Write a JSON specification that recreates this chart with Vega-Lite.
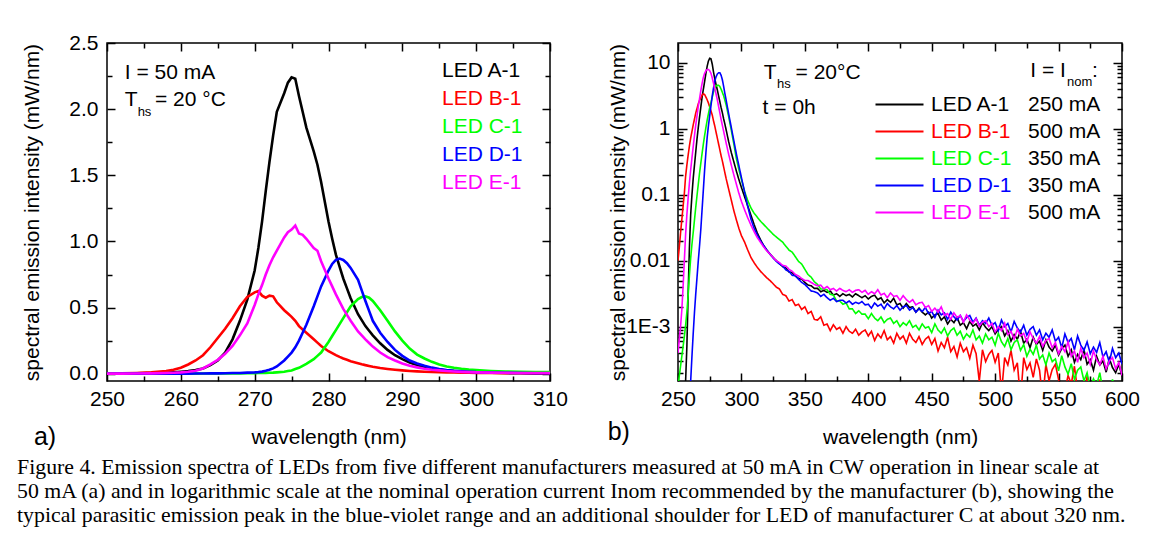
{
"$schema": "https://vega.github.io/schema/vega-lite/v6.json",
"background": "white",
"padding": {"left": 17, "top": 31, "right": 10, "bottom": 10},
"config": {
  "font": "Liberation Sans",
  "view": {"stroke": "black", "strokeWidth": 1.5},
  "axis": {"domain": false, "grid": false, "labelFont": "Liberation Sans", "labelFontSize": 21, "labelColor": "black", "titleFont": "Liberation Sans", "titleFontSize": 21, "titleFontWeight": "normal", "titleColor": "black", "tickColor": "black", "tickWidth": 1.5, "labelFlush": false, "labelOverlap": false},
  "legend": {"labelFont": "Liberation Sans", "labelFontSize": 21, "padding": 0}
},
"datasets": {
"a": [
{"w":250,"A":0.002,"B":0.002,"C":0.001,"D":0.001,"E":0.001},
{"w":252,"A":0.002,"B":0.003,"C":0.001,"D":0.001,"E":0.001},
{"w":254,"A":0.003,"B":0.006,"C":0.001,"D":0.001,"E":0.002},
{"w":256,"A":0.005,"B":0.011,"C":0.001,"D":0.001,"E":0.003},
{"w":258,"A":0.008,"B":0.021,"C":0.001,"D":0.001,"E":0.005},
{"w":259,"A":0.011,"B":0.03,"C":0.001,"D":0.001,"E":0.007},
{"w":260,"A":0.015,"B":0.045,"C":0.001,"D":0.001,"E":0.01},
{"w":261,"A":0.02,"B":0.07,"C":0.001,"D":0.001,"E":0.015},
{"w":262,"A":0.028,"B":0.1,"C":0.001,"D":0.002,"E":0.022},
{"w":263,"A":0.04,"B":0.14,"C":0.002,"D":0.002,"E":0.04},
{"w":264,"A":0.065,"B":0.2,"C":0.002,"D":0.003,"E":0.07},
{"w":265,"A":0.1,"B":0.27,"C":0.002,"D":0.003,"E":0.105},
{"w":266,"A":0.16,"B":0.34,"C":0.002,"D":0.004,"E":0.15},
{"w":267,"A":0.26,"B":0.42,"C":0.003,"D":0.005,"E":0.21},
{"w":268,"A":0.40,"B":0.51,"C":0.003,"D":0.006,"E":0.29},
{"w":269,"A":0.56,"B":0.58,"C":0.004,"D":0.008,"E":0.38},
{"w":270,"A":0.78,"B":0.615,"C":0.004,"D":0.01,"E":0.52},
{"w":270.5,"A":0.95,"B":0.625,"C":0.005,"D":0.012,"E":0.6},
{"w":271,"A":1.15,"B":0.59,"C":0.005,"D":0.016,"E":0.67},
{"w":271.5,"A":1.38,"B":0.575,"C":0.006,"D":0.022,"E":0.75},
{"w":272,"A":1.60,"B":0.59,"C":0.007,"D":0.03,"E":0.82},
{"w":272.5,"A":1.80,"B":0.585,"C":0.008,"D":0.04,"E":0.88},
{"w":273,"A":1.98,"B":0.54,"C":0.01,"D":0.055,"E":0.93},
{"w":274,"A":2.12,"B":0.48,"C":0.015,"D":0.1,"E":1.03},
{"w":274.5,"A":2.2,"B":0.455,"C":0.02,"D":0.13,"E":1.07},
{"w":275,"A":2.24,"B":0.43,"C":0.025,"D":0.16,"E":1.09},
{"w":275.5,"A":2.23,"B":0.40,"C":0.035,"D":0.2,"E":1.12},
{"w":276,"A":2.10,"B":0.36,"C":0.045,"D":0.25,"E":1.06},
{"w":276.5,"A":1.98,"B":0.335,"C":0.06,"D":0.31,"E":1.05},
{"w":277,"A":1.86,"B":0.31,"C":0.075,"D":0.37,"E":1.02},
{"w":278,"A":1.68,"B":0.26,"C":0.11,"D":0.51,"E":0.95},
{"w":278.5,"A":1.58,"B":0.235,"C":0.135,"D":0.585,"E":0.93},
{"w":279,"A":1.45,"B":0.21,"C":0.16,"D":0.66,"E":0.85},
{"w":280,"A":1.15,"B":0.17,"C":0.24,"D":0.78,"E":0.72},
{"w":280.5,"A":1.02,"B":0.155,"C":0.285,"D":0.83,"E":0.66},
{"w":281,"A":0.90,"B":0.14,"C":0.33,"D":0.86,"E":0.60},
{"w":281.5,"A":0.81,"B":0.127,"C":0.375,"D":0.87,"E":0.545},
{"w":282,"A":0.72,"B":0.115,"C":0.42,"D":0.86,"E":0.49},
{"w":282.5,"A":0.645,"B":0.105,"C":0.465,"D":0.835,"E":0.445},
{"w":283,"A":0.57,"B":0.095,"C":0.51,"D":0.80,"E":0.40},
{"w":284,"A":0.45,"B":0.08,"C":0.565,"D":0.71,"E":0.32},
{"w":284.5,"A":0.405,"B":0.072,"C":0.58,"D":0.63,"E":0.29},
{"w":285,"A":0.36,"B":0.065,"C":0.585,"D":0.55,"E":0.26},
{"w":285.5,"A":0.325,"B":0.059,"C":0.575,"D":0.475,"E":0.232},
{"w":286,"A":0.29,"B":0.053,"C":0.55,"D":0.40,"E":0.205},
{"w":287,"A":0.23,"B":0.043,"C":0.48,"D":0.31,"E":0.16},
{"w":288,"A":0.18,"B":0.036,"C":0.40,"D":0.24,"E":0.125},
{"w":289,"A":0.14,"B":0.03,"C":0.32,"D":0.18,"E":0.1},
{"w":290,"A":0.11,"B":0.025,"C":0.25,"D":0.135,"E":0.077},
{"w":291,"A":0.085,"B":0.021,"C":0.19,"D":0.1,"E":0.06},
{"w":292,"A":0.065,"B":0.018,"C":0.145,"D":0.077,"E":0.048},
{"w":293,"A":0.05,"B":0.015,"C":0.115,"D":0.06,"E":0.038},
{"w":294,"A":0.04,"B":0.013,"C":0.09,"D":0.046,"E":0.03},
{"w":295,"A":0.032,"B":0.011,"C":0.07,"D":0.036,"E":0.025},
{"w":296,"A":0.025,"B":0.01,"C":0.055,"D":0.028,"E":0.02},
{"w":297,"A":0.02,"B":0.009,"C":0.045,"D":0.022,"E":0.017},
{"w":298,"A":0.016,"B":0.008,"C":0.037,"D":0.018,"E":0.014},
{"w":299,"A":0.013,"B":0.007,"C":0.031,"D":0.015,"E":0.012},
{"w":300,"A":0.011,"B":0.006,"C":0.027,"D":0.012,"E":0.01},
{"w":302,"A":0.008,"B":0.005,"C":0.021,"D":0.009,"E":0.008},
{"w":304,"A":0.006,"B":0.004,"C":0.017,"D":0.007,"E":0.007},
{"w":306,"A":0.005,"B":0.0035,"C":0.015,"D":0.005,"E":0.006},
{"w":308,"A":0.004,"B":0.003,"C":0.013,"D":0.004,"E":0.005},
{"w":310,"A":0.004,"B":0.003,"C":0.012,"D":0.004,"E":0.005}
],
"b": [
{"w":250,"A":3.2e-5,"B":1.0e-2,"C":1.26e-4,"D":3.2e-5,"E":3.98e-4},
{"w":251,"A":3.2e-5,"B":1.58e-2,"C":1.78e-4,"D":3.2e-5,"E":6.31e-4},
{"w":252,"A":3.2e-5,"B":2.63e-2,"C":2.51e-4,"D":3.2e-5,"E":1.0e-3},
{"w":253,"A":3.2e-5,"B":4.17e-2,"C":3.55e-4,"D":3.2e-5,"E":1.78e-3},
{"w":254,"A":5.0e-5,"B":6.61e-2,"C":5.01e-4,"D":3.2e-5,"E":3.98e-3},
{"w":255,"A":8.9e-5,"B":0.105,"C":7.08e-4,"D":3.2e-5,"E":1.0e-2},
{"w":256,"A":1.51e-4,"B":0.191,"C":1.05e-3,"D":3.2e-5,"E":2.51e-2},
{"w":257,"A":5.01e-4,"B":0.282,"C":1.66e-3,"D":3.2e-5,"E":5.01e-2},
{"w":258,"A":3.16e-3,"B":0.398,"C":3.02e-3,"D":3.2e-5,"E":8.91e-2},
{"w":259,"A":1.58e-2,"B":0.55,"C":6.03e-3,"D":3.2e-5,"E":0.151},
{"w":260,"A":5.01e-2,"B":0.724,"C":1.10e-2,"D":1.51e-4,"E":0.24},
{"w":261,"A":0.1,"B":0.912,"C":1.78e-2,"D":3.55e-4,"E":0.363},
{"w":262,"A":0.178,"B":1.15,"C":2.69e-2,"D":7.94e-4,"E":0.537},
{"w":263,"A":0.282,"B":1.41,"C":4.17e-2,"D":1.66e-3,"E":0.794},
{"w":264,"A":0.447,"B":1.74,"C":6.46e-2,"D":3.16e-3,"E":1.15},
{"w":265,"A":0.708,"B":2.04,"C":9.77e-2,"D":5.62e-3,"E":1.58},
{"w":266,"A":1.05,"B":2.40,"C":0.145,"D":1.0e-2,"E":2.19},
{"w":267,"A":1.51,"B":2.69,"C":0.214,"D":1.70e-2,"E":2.88},
{"w":268,"A":2.14,"B":2.95,"C":0.302,"D":3.02e-2,"E":3.80},
{"w":269,"A":3.02,"B":3.24,"C":0.427,"D":6.03e-2,"E":4.90},
{"w":270,"A":3.98,"B":3.39,"C":0.589,"D":0.12,"E":6.03},
{"w":271,"A":5.25,"B":3.31,"C":0.794,"D":0.24,"E":6.92},
{"w":272,"A":6.92,"B":3.02,"C":1.05,"D":0.437,"E":7.59},
{"w":273,"A":8.91,"B":2.75,"C":1.35,"D":0.741,"E":7.94},
{"w":274,"A":10.7,"B":2.45,"C":1.70,"D":1.12,"E":7.94},
{"w":275,"A":11.7,"B":2.14,"C":2.09,"D":1.58,"E":7.59},
{"w":276,"A":11.5,"B":1.86,"C":2.51,"D":2.24,"E":6.92},
{"w":277,"A":9.55,"B":1.62,"C":3.02,"D":3.16,"E":5.89},
{"w":278,"A":7.24,"B":1.32,"C":3.63,"D":4.17,"E":4.90},
{"w":279,"A":5.75,"B":1.10,"C":4.17,"D":5.25,"E":4.07},
{"w":280,"A":4.68,"B":0.891,"C":4.47,"D":6.17,"E":3.39},
{"w":281,"A":3.89,"B":0.724,"C":4.57,"D":6.76,"E":2.75},
{"w":282,"A":3.16,"B":0.589,"C":4.57,"D":7.08,"E":2.19},
{"w":283,"A":2.57,"B":0.479,"C":4.37,"D":7.08,"E":1.74},
{"w":284,"A":2.09,"B":0.389,"C":3.98,"D":6.46,"E":1.38},
{"w":285,"A":1.74,"B":0.324,"C":3.55,"D":5.50,"E":1.12},
{"w":286,"A":1.41,"B":0.263,"C":3.16,"D":4.37,"E":0.912},
{"w":287,"A":1.17,"B":0.214,"C":2.69,"D":3.39,"E":0.741},
{"w":288,"A":0.955,"B":0.174,"C":2.29,"D":2.69,"E":0.603},
{"w":290,"A":0.631,"B":0.12,"C":1.51,"D":1.66,"E":0.407},
{"w":292,"A":0.437,"B":0.0832,"C":0.955,"D":1.05,"E":0.282},
{"w":294,"A":0.316,"B":0.0575,"C":0.589,"D":0.661,"E":0.2},
{"w":296,"A":0.229,"B":0.0417,"C":0.355,"D":0.417,"E":0.145},
{"w":298,"A":0.17,"B":0.0309,"C":0.24,"D":0.275,"E":0.105},
{"w":300,"A":0.129,"B":0.024,"C":0.17,"D":0.182,"E":0.0794},
{"w":302.5,"A":0.0933,"B":0.0191,"C":0.112,"D":0.11,"E":0.0589},
{"w":305,"A":0.0676,"B":0.0145,"C":0.0813,"D":0.0661,"E":0.0447},
{"w":307.5,"A":0.049,"B":0.0112,"C":0.0631,"D":0.0427,"E":0.0347},
{"w":310,"A":0.0355,"B":0.00933,"C":0.0525,"D":0.0309,"E":0.0275},
{"w":312.5,"A":0.0263,"B":0.00794,"C":0.0457,"D":0.0245,"E":0.0224},
{"w":315,"A":0.0209,"B":0.00692,"C":0.0398,"D":0.02,"E":0.0191},
{"w":317.5,"A":0.017,"B":0.00617,"C":0.0355,"D":0.017,"E":0.0162},
{"w":320,"A":0.0145,"B":0.0055,"C":0.0316,"D":0.0145,"E":0.0141},
{"w":322.5,"A":0.0126,"B":0.00501,"C":0.0282,"D":0.0126,"E":0.0126},
{"w":325,"A":0.0112,"B":0.00447,"C":0.0251,"D":0.011,"E":0.0112},
{"w":327.5,"A":0.01,"B":0.00398,"C":0.0229,"D":0.00977,"E":0.01},
{"w":330,"A":0.00912,"B":0.00372,"C":0.0209,"D":0.00891,"E":0.00933},
{"w":332.5,"A":0.00813,"B":0.00309,"C":0.0191,"D":0.00832,"E":0.00851},
{"w":335,"A":0.00776,"B":0.00295,"C":0.0166,"D":0.00724,"E":0.00832},
{"w":337.5,"A":0.00676,"B":0.00245,"C":0.0145,"D":0.00692,"E":0.00741},
{"w":340,"A":0.00661,"B":0.00257,"C":0.0135,"D":0.00603,"E":0.00692},
{"w":342.5,"A":0.00589,"B":0.00209,"C":0.0115,"D":0.00589,"E":0.00617},
{"w":345,"A":0.00537,"B":0.00219,"C":0.00977,"D":0.00525,"E":0.00589},
{"w":347.5,"A":0.00525,"B":0.00182,"C":0.00891,"D":0.00468,"E":0.00537},
{"w":350,"A":0.00468,"B":0.002,"C":0.00741,"D":0.00437,"E":0.00501},
{"w":352.5,"A":0.00427,"B":0.00158,"C":0.00617,"D":0.00389,"E":0.00501},
{"w":355,"A":0.00417,"B":0.0017,"C":0.00562,"D":0.00347,"E":0.00468},
{"w":357.5,"A":0.0038,"B":0.00129,"C":0.00479,"D":0.00339,"E":0.00437},
{"w":360,"A":3.80e-3,"B":1.26e-3,"C":4.37e-3,"D":3.24e-3,"E":4.17e-3},
{"w":362.5,"A":3.39e-3,"B":1.41e-3,"C":3.72e-3,"D":2.88e-3,"E":4.27e-3},
{"w":365,"A":3.55e-3,"B":1.05e-3,"C":3.72e-3,"D":3.09e-3,"E":3.75e-3},
{"w":367.5,"A":3.31e-3,"B":1.10e-3,"C":3.63e-3,"D":2.75e-3,"E":4.07e-3},
{"w":370,"A":3.47e-3,"B":8.71e-4,"C":3.09e-3,"D":2.51e-3,"E":3.63e-3},
{"w":372.5,"A":3.02e-3,"B":1.07e-3,"C":3.02e-3,"D":2.69e-3,"E":3.80e-3},
{"w":375,"A":3.16e-3,"B":9.12e-4,"C":2.45e-3,"D":2.40e-3,"E":3.47e-3},
{"w":377.5,"A":2.88e-3,"B":9.77e-4,"C":2.45e-3,"D":2.51e-3,"E":3.80e-3},
{"w":380,"A":3.16e-3,"B":7.94e-4,"C":2.19e-3,"D":2.51e-3,"E":3.55e-3},
{"w":382.5,"A":2.95e-3,"B":1.00e-3,"C":2.29e-3,"D":2.29e-3,"E":3.39e-3},
{"w":385,"A":3.09e-3,"B":8.51e-4,"C":1.86e-3,"D":2.45e-3,"E":3.63e-3},
{"w":387.5,"A":2.82e-3,"B":7.94e-4,"C":1.86e-3,"D":2.19e-3,"E":3.31e-3},
{"w":390,"A":3.16e-3,"B":9.12e-4,"C":1.58e-3,"D":2.34e-3,"E":3.55e-3},
{"w":392.5,"A":2.95e-3,"B":7.41e-4,"C":1.74e-3,"D":2.24e-3,"E":3.63e-3},
{"w":395,"A":2.75e-3,"B":8.32e-4,"C":1.55e-3,"D":2.40e-3,"E":3.31e-3},
{"w":397.5,"A":2.95e-3,"B":8.91e-4,"C":1.55e-3,"D":2.14e-3,"E":3.55e-3},
{"w":400,"A":2.63e-3,"B":7.24e-4,"C":1.32e-3,"D":2.19e-3,"E":3.09e-3},
{"w":402.5,"A":2.88e-3,"B":8.51e-4,"C":1.58e-3,"D":1.91e-3,"E":3.39e-3},
{"w":405,"A":3.0e-3,"B":6.17e-4,"C":1.35e-3,"D":2.29e-3,"E":3.16e-3},
{"w":407.5,"A":2.57e-3,"B":7.76e-4,"C":1.23e-3,"D":2.04e-3,"E":3.63e-3},
{"w":410,"A":2.75e-3,"B":6.76e-4,"C":1.41e-3,"D":2.19e-3,"E":3.02e-3},
{"w":412.5,"A":2.29e-3,"B":8.71e-4,"C":1.15e-3,"D":1.86e-3,"E":3.2e-3},
{"w":415,"A":2.57e-3,"B":6.31e-4,"C":1.29e-3,"D":2.24e-3,"E":2.75e-3},
{"w":417.5,"A":2.34e-3,"B":7.08e-4,"C":1.35e-3,"D":2.00e-3,"E":3.24e-3},
{"w":420,"A":2.69e-3,"B":5.62e-4,"C":1.12e-3,"D":1.86e-3,"E":2.88e-3},
{"w":422.5,"A":2.14e-3,"B":7.94e-4,"C":1.23e-3,"D":2.09e-3,"E":2.95e-3},
{"w":425,"A":2.24e-3,"B":6.46e-4,"C":1.00e-3,"D":1.78e-3,"E":2.51e-3},
{"w":427.5,"A":1.91e-3,"B":7.24e-4,"C":1.15e-3,"D":2.00e-3,"E":2.95e-3},
{"w":430,"A":2.24e-3,"B":5.62e-4,"C":1.05e-3,"D":2.09e-3,"E":2.57e-3},
{"w":432.5,"A":1.95e-3,"B":7.94e-4,"C":1.23e-3,"D":1.78e-3,"E":2.34e-3},
{"w":435,"A":2.00e-3,"B":6.46e-4,"C":9.77e-4,"D":1.95e-3,"E":2.57e-3},
{"w":437.5,"A":1.66e-3,"B":5.75e-4,"C":1.05e-3,"D":1.66e-3,"E":2.14e-3},
{"w":440,"A":1.91e-3,"B":7.08e-4,"C":8.91e-4,"D":1.86e-3,"E":2.29e-3},
{"w":442.5,"A":1.66e-3,"B":5.37e-4,"C":1.10e-3,"D":1.70e-3,"E":2.34e-3},
{"w":445,"A":1.51e-3,"B":6.46e-4,"C":9.55e-4,"D":1.95e-3,"E":1.95e-3},
{"w":447.5,"A":1.66e-3,"B":7.08e-4,"C":1.00e-3,"D":1.58e-3,"E":2.09e-3},
{"w":450,"A":1.35e-3,"B":5.37e-4,"C":8.13e-4,"D":1.70e-3,"E":1.70e-3},
{"w":452.5,"A":1.51e-3,"B":6.61e-4,"C":1.10e-3,"D":1.38e-3,"E":1.91e-3},
{"w":455,"A":1.58e-3,"B":4.27e-4,"C":8.91e-4,"D":1.78e-3,"E":1.66e-3},
{"w":457.5,"A":1.26e-3,"B":5.75e-4,"C":7.94e-4,"D":1.51e-3,"E":2.00e-3},
{"w":460,"A":1.41e-3,"B":4.79e-4,"C":9.55e-4,"D":1.62e-3,"E":1.48e-3},
{"w":462.5,"A":1.10e-3,"B":6.92e-4,"C":7.24e-4,"D":1.29e-3,"E":1.58e-3},
{"w":465,"A":1.29e-3,"B":4.17e-4,"C":8.71e-4,"D":1.66e-3,"E":1.29e-3},
{"w":467.5,"A":1.15e-3,"B":5.01e-4,"C":9.55e-4,"D":1.41e-3,"E":1.62e-3},
{"w":470,"A":1.38e-3,"B":3.47e-4,"C":7.41e-4,"D":1.26e-3,"E":1.38e-3},
{"w":472.5,"A":1.05e-3,"B":5.62e-4,"C":8.51e-4,"D":1.48e-3,"E":1.48e-3},
{"w":475,"A":1.15e-3,"B":4.17e-4,"C":6.46e-4,"D":1.20e-3,"E":1.17e-3},
{"w":477.5,"A":9.33e-4,"B":4.79e-4,"C":7.76e-4,"D":1.38e-3,"E":1.51e-3},
{"w":480,"A":1.20e-3,"B":3.31e-4,"C":6.92e-4,"D":1.48e-3,"E":1.26e-3},
{"w":482.5,"A":1.02e-3,"B":5.25e-4,"C":8.91e-4,"D":1.17e-3,"E":1.12e-3},
{"w":485,"A":1.10e-3,"B":3.89e-4,"C":6.31e-4,"D":1.35e-3,"E":1.32e-3},
{"w":487.5,"A":8.91e-4,"B":1.48e-4,"C":7.24e-4,"D":1.05e-3,"E":1.02e-3},
{"w":490,"A":1.15e-3,"B":4.47e-4,"C":5.62e-4,"D":1.23e-3,"E":1.17e-3},
{"w":492.5,"A":9.77e-4,"B":2.95e-4,"C":7.76e-4,"D":1.12e-3,"E":1.23e-3},
{"w":495,"A":8.71e-4,"B":3.80e-4,"C":6.31e-4,"D":1.35e-3,"E":1.00e-3},
{"w":497.5,"A":1.00e-3,"B":4.37e-4,"C":6.92e-4,"D":1.05e-3,"E":1.12e-3},
{"w":500,"A":7.76e-4,"B":2.88e-4,"C":5.25e-4,"D":1.15e-3,"E":8.32e-4},
{"w":502.5,"A":9.12e-4,"B":3.98e-4,"C":7.94e-4,"D":8.71e-4,"E":1.00e-3},
{"w":505,"A":1.00e-3,"B":9.77e-5,"C":5.89e-4,"D":1.26e-3,"E":8.71e-4},
{"w":507.5,"A":7.24e-4,"B":3.39e-4,"C":5.01e-4,"D":1.00e-3,"E":1.13e-3},
{"w":510,"A":8.71e-4,"B":2.63e-4,"C":6.61e-4,"D":1.12e-3,"E":7.59e-4},
{"w":512.5,"A":6.03e-4,"B":4.37e-4,"C":4.47e-4,"D":8.32e-4,"E":8.51e-4},
{"w":515,"A":7.59e-4,"B":2.19e-4,"C":5.75e-4,"D":1.20e-3,"E":6.46e-4},
{"w":517.5,"A":6.46e-4,"B":2.82e-4,"C":6.31e-4,"D":9.55e-4,"E":9.12e-4},
{"w":520,"A":8.51e-4,"B":7.76e-5,"C":4.37e-4,"D":8.32e-4,"E":7.24e-4},
{"w":522.5,"A":5.62e-4,"B":3.39e-4,"C":5.37e-4,"D":1.05e-3,"E":7.94e-4},
{"w":525,"A":6.46e-4,"B":2.24e-4,"C":3.55e-4,"D":7.41e-4,"E":5.89e-4},
{"w":527.5,"A":4.79e-4,"B":2.82e-4,"C":4.57e-4,"D":9.12e-4,"E":8.32e-4},
{"w":530,"A":6.92e-4,"B":1.70e-4,"C":3.80e-4,"D":1.00e-3,"E":6.61e-4},
{"w":532.5,"A":5.37e-4,"B":3.24e-4,"C":5.25e-4,"D":7.41e-4,"E":5.62e-4},
{"w":535,"A":6.03e-4,"B":2.19e-4,"C":3.24e-4,"D":8.91e-4,"E":7.08e-4},
{"w":537.5,"A":4.37e-4,"B":7.76e-5,"C":3.72e-4,"D":6.31e-4,"E":5.01e-4},
{"w":540,"A":6.31e-4,"B":2.69e-4,"C":2.63e-4,"D":7.94e-4,"E":6.17e-4},
{"w":542.5,"A":4.90e-4,"B":1.51e-4,"C":3.98e-4,"D":6.92e-4,"E":6.61e-4},
{"w":545,"A":4.27e-4,"B":2.24e-4,"C":2.95e-4,"D":8.91e-4,"E":4.79e-4},
{"w":547.5,"A":5.25e-4,"B":2.69e-4,"C":3.24e-4,"D":6.03e-4,"E":5.75e-4},
{"w":550,"A":3.72e-4,"B":1.58e-4,"C":2.14e-4,"D":6.92e-4,"E":3.89e-4},
{"w":552.5,"A":4.68e-4,"B":1.05e-4,"C":3.63e-4,"D":4.79e-4,"E":5.01e-4},
{"w":555,"A":5.25e-4,"B":1.10e-4,"C":2.45e-4,"D":7.76e-4,"E":4.17e-4},
{"w":557.5,"A":3.55e-4,"B":1.82e-4,"C":1.91e-4,"D":5.75e-4,"E":5.89e-4},
{"w":560,"A":4.47e-4,"B":1.35e-4,"C":2.75e-4,"D":6.61e-4,"E":3.55e-4},
{"w":562.5,"A":2.88e-4,"B":2.51e-4,"C":1.58e-4,"D":4.47e-4,"E":4.27e-4},
{"w":565,"A":3.80e-4,"B":1.07e-4,"C":2.19e-4,"D":7.24e-4,"E":2.88e-4},
{"w":567.5,"A":3.16e-4,"B":6.46e-5,"C":2.45e-4,"D":5.25e-4,"E":4.68e-4},
{"w":570,"A":4.47e-4,"B":7.94e-5,"C":1.51e-4,"D":4.37e-4,"E":3.39e-4},
{"w":572.5,"A":2.69e-4,"B":1.78e-4,"C":2.00e-4,"D":5.89e-4,"E":3.98e-4},
{"w":575,"A":3.16e-4,"B":1.07e-4,"C":1.15e-4,"D":3.89e-4,"E":2.69e-4},
{"w":577.5,"A":2.19e-4,"B":1.35e-4,"C":1.62e-4,"D":4.90e-4,"E":4.27e-4},
{"w":580,"A":3.55e-4,"B":3.3e-5,"C":1.29e-4,"D":4.07e-4,"E":3.16e-4},
{"w":582.5,"A":2.63e-4,"B":1.58e-4,"C":2.00e-4,"D":5.75e-4,"E":2.63e-4},
{"w":585,"A":3.02e-4,"B":9.55e-5,"C":1.07e-4,"D":3.47e-4,"E":3.55e-4},
{"w":587.5,"A":2.04e-4,"B":7.2e-5,"C":1.35e-4,"D":4.17e-4,"E":2.29e-4},
{"w":590,"A":3.31e-4,"B":5.4e-5,"C":8.71e-5,"D":2.88e-4,"E":3.02e-4},
{"w":592.5,"A":2.40e-4,"B":6.1e-5,"C":1.58e-4,"D":4.68e-4,"E":3.39e-4},
{"w":595,"A":2.00e-4,"B":9.8e-5,"C":1.10e-4,"D":3.39e-4,"E":2.29e-4},
{"w":597.5,"A":2.69e-4,"B":5.5e-5,"C":1.35e-4,"D":3.98e-4,"E":2.88e-4},
{"w":600,"A":1.78e-4,"B":6.5e-5,"C":8.32e-5,"D":2.69e-4,"E":1.82e-4}
]
},
"title": {
  "text": [
    "Figure 4. Emission spectra of LEDs from five different manufacturers measured at 50 mA in CW operation in linear scale at",
    "50 mA (a) and in logarithmic scale at the nominal operation current Inom recommended by the manufacturer (b), showing the",
    "typical parasitic emission peak in the blue-violet range and an additional shoulder for LED of manufacturer C at about 320 nm."
  ],
  "orient": "bottom", "anchor": "start", "font": "Liberation Serif", "fontSize": 21.8, "fontWeight": "normal", "lineHeight": 24, "offset": 6, "dx": -4, "color": "black"
},
"spacing": 37,
"resolve": {"scale": {"color": "independent", "strokeDash": "independent", "x": "independent", "y": "independent"}, "legend": {"color": "independent", "strokeDash": "independent"}},
"hconcat": [
{
  "width": 443, "height": 338,
  "resolve": {"axis": {"x": "independent", "y": "independent"}},
  "layer": [
    {
      "data": {"name": "a"},
      "transform": [{"fold": ["A", "B", "C", "D", "E"], "as": ["led", "val"]}],
      "mark": {"type": "line", "strokeWidth": 2.6, "clip": true},
      "encoding": {
        "x": {"field": "w", "type": "quantitative", "scale": {"domain": [250, 310], "nice": false, "zero": false},
          "axis": {"orient": "bottom", "values": [250,255,260,265,270,275,280,285,290,295,300,305,310], "labelExpr": "datum.value % 10 === 0 ? datum.label : ''", "tickSize": {"condition": {"test": "datum.value % 10 === 0", "value": -8}, "value": -5}, "labelPadding": 15, "title": "wavelength (nm)", "titlePadding": 14}},
        "y": {"field": "val", "type": "quantitative", "scale": {"domain": [-0.055, 2.5], "nice": false, "zero": false},
          "axis": {"orient": "left", "values": [0,0.25,0.5,0.75,1,1.25,1.5,1.75,2,2.25,2.5], "labelExpr": "datum.value % 0.5 === 0 ? format(datum.value, '.1f') : ''", "tickSize": {"condition": {"test": "datum.value % 0.5 === 0", "value": -8}, "value": -5}, "labelPadding": 17, "title": "spectral emission intensity (mW/nm)", "titlePadding": 26}},
        "color": {"field": "led", "type": "nominal", "scale": {"domain": ["A", "B", "C", "D", "E"], "range": ["#000000", "#ff0000", "#00ff00", "#0000ff", "#ff00ff"]},
          "legend": {"orient": "none", "legendX": 314, "legendY": 17, "title": null, "symbolSize": 0, "symbolOpacity": 0, "symbolStrokeWidth": 0, "labelOffset": 0, "rowPadding": 6, "labelExpr": "'LED ' + datum.label + '-1'",
            "encode": {"labels": {"update": {"fill": {"signal": "datum.value === 'A' ? '#000000' : datum.value === 'B' ? '#ff0000' : datum.value === 'C' ? '#00ff00' : datum.value === 'D' ? '#0000ff' : '#ff00ff'"}}}}}}
      }
    },
    {
      "data": {"values": [{"w": 280, "val": 1}]},
      "mark": {"type": "point", "opacity": 0},
      "encoding": {
        "x": {"field": "w", "type": "quantitative", "scale": {"domain": [250, 310], "nice": false, "zero": false},
          "axis": {"orient": "top", "values": [250,255,260,265,270,275,280,285,290,295,300,305,310], "labels": false, "title": null, "tickSize": {"condition": {"test": "datum.value % 10 === 0", "value": -8}, "value": -5}}},
        "y": {"field": "val", "type": "quantitative", "scale": {"domain": [-0.055, 2.5], "nice": false, "zero": false},
          "axis": {"orient": "right", "values": [0,0.25,0.5,0.75,1,1.25,1.5,1.75,2,2.25,2.5], "labels": false, "title": null, "tickSize": {"condition": {"test": "datum.value % 0.5 === 0", "value": -8}, "value": -5}}}
      }
    },
    {
      "data": {"values": [{}]},
      "mark": {"type": "text", "align": "left", "baseline": "middle", "fontSize": 21, "font": "Liberation Sans"},
      "encoding": {
        "x": {"datum": 252.4, "type": "quantitative", "scale": {"domain": [250, 310], "nice": false, "zero": false}, "axis": null},
        "y": {"datum": 2.272, "type": "quantitative", "scale": {"domain": [-0.055, 2.5], "nice": false, "zero": false}, "axis": null},
        "text": {"value": "I = 50 mA"}
      }
    },
    {
      "data": {"values": [{}]},
      "mark": {"type": "text", "align": "left", "baseline": "middle", "fontSize": 21, "font": "Liberation Sans"},
      "encoding": {
        "x": {"datum": 252.4, "type": "quantitative", "scale": {"domain": [250, 310], "nice": false, "zero": false}, "axis": null},
        "y": {"datum": 2.068, "type": "quantitative", "scale": {"domain": [-0.055, 2.5], "nice": false, "zero": false}, "axis": null},
        "text": {"value": "T"}
      }
    },
    {
      "data": {"values": [{}]},
      "mark": {"type": "text", "align": "left", "baseline": "middle", "fontSize": 13, "font": "Liberation Sans"},
      "encoding": {
        "x": {"datum": 254.15, "type": "quantitative", "scale": {"domain": [250, 310], "nice": false, "zero": false}, "axis": null},
        "y": {"datum": 1.98, "type": "quantitative", "scale": {"domain": [-0.055, 2.5], "nice": false, "zero": false}, "axis": null},
        "text": {"value": "hs"}
      }
    },
    {
      "data": {"values": [{}]},
      "mark": {"type": "text", "align": "left", "baseline": "middle", "fontSize": 21, "font": "Liberation Sans"},
      "encoding": {
        "x": {"datum": 256.5, "type": "quantitative", "scale": {"domain": [250, 310], "nice": false, "zero": false}, "axis": null},
        "y": {"datum": 2.068, "type": "quantitative", "scale": {"domain": [-0.055, 2.5], "nice": false, "zero": false}, "axis": null},
        "text": {"value": "= 20 °C"}
      }
    },
    {
      "data": {"values": [{}]},
      "mark": {"type": "text", "align": "left", "baseline": "middle", "fontSize": 25, "font": "Liberation Sans"},
      "encoding": {
        "x": {"datum": 240.1, "type": "quantitative", "scale": {"domain": [250, 310], "nice": false, "zero": false}, "axis": null},
        "y": {"datum": -0.479, "type": "quantitative", "scale": {"domain": [-0.055, 2.5], "nice": false, "zero": false}, "axis": null},
        "text": {"value": "a)"}
      }
    }
  ]
},
{
  "width": 444, "height": 338,
  "resolve": {"axis": {"x": "independent", "y": "independent"}},
  "layer": [
    {
      "data": {"name": "b"},
      "transform": [
        {"fold": ["A", "B", "C", "D", "E"], "as": ["led", "val"]},
        {"lookup": "led", "from": {"data": {"values": [{"led": "A", "cur": "A 250 mA"}, {"led": "B", "cur": "B 500 mA"}, {"led": "C", "cur": "C 350 mA"}, {"led": "D", "cur": "D 350 mA"}, {"led": "E", "cur": "E 500 mA"}]}, "key": "led", "fields": ["cur"]}}
      ],
      "mark": {"type": "line", "strokeWidth": 1.6, "clip": true},
      "encoding": {
        "x": {"field": "w", "type": "quantitative", "scale": {"domain": [250, 600], "nice": false, "zero": false},
          "axis": {"orient": "bottom", "values": [250,275,300,325,350,375,400,425,450,475,500,525,550,575,600], "labelExpr": "datum.value % 50 === 0 ? datum.label : ''", "tickSize": {"condition": {"test": "datum.value % 50 === 0", "value": -8}, "value": -5}, "labelPadding": 15, "title": "wavelength (nm)", "titlePadding": 14}},
        "y": {"field": "val", "type": "quantitative", "scale": {"type": "log", "domain": [0.00015, 20], "nice": false},
          "axis": {"orient": "left", "values": [0.0002,0.0003,0.0004,0.0005,0.0006,0.0007,0.0008,0.0009,0.001,0.002,0.003,0.004,0.005,0.006,0.007,0.008,0.009,0.01,0.02,0.03,0.04,0.05,0.06,0.07,0.08,0.09,0.1,0.2,0.3,0.4,0.5,0.6,0.7,0.8,0.9,1,2,3,4,5,6,7,8,9,10],
            "labelExpr": "datum.value == 10 ? '10' : datum.value == 1 ? '1' : datum.value == 0.1 ? '0.1' : datum.value == 0.01 ? '0.01' : datum.value == 0.001 ? '1E-3' : ''",
            "tickSize": {"condition": {"test": "datum.value == 10 || datum.value == 1 || datum.value == 0.1 || datum.value == 0.01 || datum.value == 0.001", "value": -9}, "value": -5}, "labelPadding": 17, "title": "spectral emission intensity (mW/nm)", "titlePadding": -3}},
        "color": {"field": "led", "type": "nominal", "scale": {"domain": ["A", "B", "C", "D", "E"], "range": ["#000000", "#ff0000", "#00ff00", "#0000ff", "#ff00ff"]},
          "legend": {"orient": "none", "legendX": 211, "legendY": 51, "title": null, "symbolType": "M-3,0L3,0", "symbolSize": 256, "symbolStrokeWidth": 2, "labelOffset": 21, "rowPadding": 5, "labelExpr": "'LED ' + datum.label + '-1'",
            "encode": {"labels": {"update": {"fill": {"signal": "datum.value === 'A' ? '#000000' : datum.value === 'B' ? '#ff0000' : datum.value === 'C' ? '#00ff00' : datum.value === 'D' ? '#0000ff' : '#ff00ff'"}}}}}},
        "strokeDash": {"field": "cur", "type": "nominal", "scale": {"domain": ["A 250 mA", "B 500 mA", "C 350 mA", "D 350 mA", "E 500 mA"], "range": [[1, 0], [1, 0], [1, 0], [1, 0], [1, 0]]},
          "legend": {"orient": "none", "legendX": 329, "legendY": 51, "title": null, "symbolSize": 0, "symbolOpacity": 0, "symbolStrokeWidth": 0, "labelOffset": 0, "rowPadding": 5, "labelColor": "black", "labelExpr": "substring(datum.label, 2)"}}
      }
    },
    {
      "data": {"values": [{"w": 400, "val": 1}]},
      "mark": {"type": "point", "opacity": 0},
      "encoding": {
        "x": {"field": "w", "type": "quantitative", "scale": {"domain": [250, 600], "nice": false, "zero": false},
          "axis": {"orient": "top", "values": [250,275,300,325,350,375,400,425,450,475,500,525,550,575,600], "labels": false, "title": null, "tickSize": {"condition": {"test": "datum.value % 50 === 0", "value": -8}, "value": -5}}},
        "y": {"field": "val", "type": "quantitative", "scale": {"type": "log", "domain": [0.00015, 20], "nice": false},
          "axis": {"orient": "right", "values": [0.0002,0.0003,0.0004,0.0005,0.0006,0.0007,0.0008,0.0009,0.001,0.002,0.003,0.004,0.005,0.006,0.007,0.008,0.009,0.01,0.02,0.03,0.04,0.05,0.06,0.07,0.08,0.09,0.1,0.2,0.3,0.4,0.5,0.6,0.7,0.8,0.9,1,2,3,4,5,6,7,8,9,10], "labels": false, "title": null,
            "tickSize": {"condition": {"test": "datum.value == 10 || datum.value == 1 || datum.value == 0.1 || datum.value == 0.01 || datum.value == 0.001", "value": -9}, "value": -5}}}
      }
    },
    {
      "data": {"values": [{}]},
      "mark": {"type": "text", "align": "left", "baseline": "middle", "fontSize": 21, "font": "Liberation Sans"},
      "encoding": {
        "x": {"datum": 317.5, "type": "quantitative", "scale": {"domain": [250, 600], "nice": false, "zero": false}, "axis": null},
        "y": {"datum": 7.05, "type": "quantitative", "scale": {"type": "log", "domain": [0.00015, 20], "nice": false}, "axis": null},
        "text": {"value": "T"}
      }
    },
    {
      "data": {"values": [{}]},
      "mark": {"type": "text", "align": "left", "baseline": "middle", "fontSize": 13, "font": "Liberation Sans"},
      "encoding": {
        "x": {"datum": 328.1, "type": "quantitative", "scale": {"domain": [250, 600], "nice": false, "zero": false}, "axis": null},
        "y": {"datum": 4.75, "type": "quantitative", "scale": {"type": "log", "domain": [0.00015, 20], "nice": false}, "axis": null},
        "text": {"value": "hs"}
      }
    },
    {
      "data": {"values": [{}]},
      "mark": {"type": "text", "align": "left", "baseline": "middle", "fontSize": 21, "font": "Liberation Sans"},
      "encoding": {
        "x": {"datum": 342.7, "type": "quantitative", "scale": {"domain": [250, 600], "nice": false, "zero": false}, "axis": null},
        "y": {"datum": 7.05, "type": "quantitative", "scale": {"type": "log", "domain": [0.00015, 20], "nice": false}, "axis": null},
        "text": {"value": "= 20°C"}
      }
    },
    {
      "data": {"values": [{}]},
      "mark": {"type": "text", "align": "left", "baseline": "middle", "fontSize": 21, "font": "Liberation Sans"},
      "encoding": {
        "x": {"datum": 316.7, "type": "quantitative", "scale": {"domain": [250, 600], "nice": false, "zero": false}, "axis": null},
        "y": {"datum": 2.08, "type": "quantitative", "scale": {"type": "log", "domain": [0.00015, 20], "nice": false}, "axis": null},
        "text": {"value": "t = 0h"}
      }
    },
    {
      "data": {"values": [{}]},
      "mark": {"type": "text", "align": "left", "baseline": "middle", "fontSize": 21, "font": "Liberation Sans"},
      "encoding": {
        "x": {"datum": 527.7, "type": "quantitative", "scale": {"domain": [250, 600], "nice": false, "zero": false}, "axis": null},
        "y": {"datum": 7.48, "type": "quantitative", "scale": {"type": "log", "domain": [0.00015, 20], "nice": false}, "axis": null},
        "text": {"value": "I = I"}
      }
    },
    {
      "data": {"values": [{}]},
      "mark": {"type": "text", "align": "left", "baseline": "middle", "fontSize": 13, "font": "Liberation Sans"},
      "encoding": {
        "x": {"datum": 556.6, "type": "quantitative", "scale": {"domain": [250, 600], "nice": false, "zero": false}, "axis": null},
        "y": {"datum": 5.15, "type": "quantitative", "scale": {"type": "log", "domain": [0.00015, 20], "nice": false}, "axis": null},
        "text": {"value": "nom"}
      }
    },
    {
      "data": {"values": [{}]},
      "mark": {"type": "text", "align": "left", "baseline": "middle", "fontSize": 21, "font": "Liberation Sans"},
      "encoding": {
        "x": {"datum": 576.3, "type": "quantitative", "scale": {"domain": [250, 600], "nice": false, "zero": false}, "axis": null},
        "y": {"datum": 7.48, "type": "quantitative", "scale": {"type": "log", "domain": [0.00015, 20], "nice": false}, "axis": null},
        "text": {"value": ":"}
      }
    },
    {
      "data": {"values": [{}]},
      "mark": {"type": "text", "align": "left", "baseline": "middle", "fontSize": 25, "font": "Liberation Sans"},
      "encoding": {
        "x": {"datum": 194.6, "type": "quantitative", "scale": {"domain": [250, 600], "nice": false, "zero": false}, "axis": null},
        "y": {"datum": 0.0000254, "type": "quantitative", "scale": {"type": "log", "domain": [0.00015, 20], "nice": false}, "axis": null},
        "text": {"value": "b)"}
      }
    }
  ]
}
]
}
